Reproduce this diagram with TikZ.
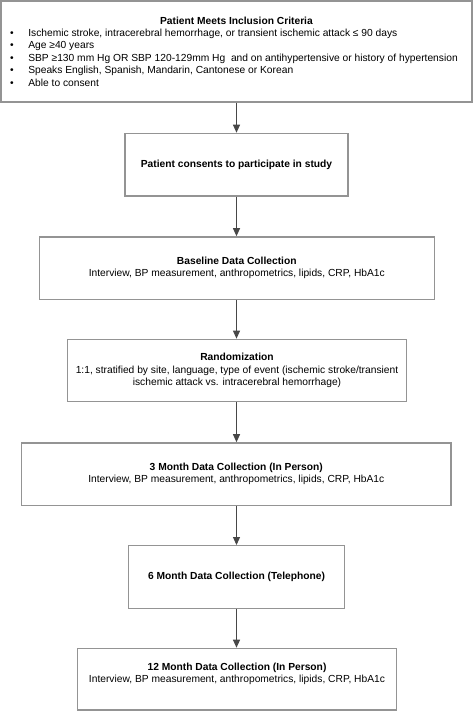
\documentclass[tikz,border=0pt]{standalone}
\usepackage{fontspec}
\setmainfont{Liberation Sans}
\usetikzlibrary{arrows.meta}
\begin{document}
\begin{tikzpicture}[x=1pt,y=-1pt,
  box/.style={draw=black!42, line width=1.3pt, fill=white, align=center, inner sep=0pt,
    font=\fontsize{10.25}{12.4}\selectfont},
  arr/.style={draw=black!72, line width=1pt, -{Triangle[length=8pt,width=7pt]}}]
\useasboundingbox (0,0) rectangle (473,711);
\newcommand{\blt}[1]{\makebox[18.3pt][l]{\textbullet}#1\par}
\node[box, minimum width=471pt, minimum height=101pt] (b1) at (236.5,51.5)
 {\begin{minipage}{453pt}\fontsize{10.25}{12.4}\selectfont
  {\centering\textbf{Patient Meets Inclusion Criteria}\par}
  \raggedright
  \blt{Ischemic stroke, intracerebral hemorrhage, or transient ischemic attack ≤ 90 days}
  \blt{Age ≥40 years}
  \blt{SBP ≥130 mm Hg OR SBP 120-129mm Hg\ \ and on antihypertensive or history of hypertension}
  \blt{Speaks English, Spanish, Mandarin, Cantonese or Korean}
  \blt{Able to consent}
 \end{minipage}};
\node[box, minimum width=223pt, minimum height=62.7pt] (b2) at (236.5,164.7)
 {\textbf{Patient consents to participate in study}};
\node[box, minimum width=395pt, minimum height=62.3pt] (b3) at (236.8,268)
 {\textbf{Baseline Data Collection}\\Interview, BP measurement, anthropometrics, lipids, CRP, HbA1c};
\node[box, minimum width=339.4pt, minimum height=62.4pt] (b4) at (237,370.5)
 {\textbf{Randomization}\\1:1, stratified by site, language, type of event (ischemic stroke/transient\\ischemic attack vs. intracerebral hemorrhage)};
\node[box, minimum width=429.3pt, minimum height=62.3pt] (b5) at (236.3,474)
 {\textbf{3 Month Data Collection (In Person)}\\Interview, BP measurement, anthropometrics, lipids, CRP, HbA1c};
\node[box, minimum width=215.6pt, minimum height=62.6pt] (b6) at (236.5,577)
 {\textbf{6 Month Data Collection (Telephone)}};
\node[box, minimum width=319.4pt, minimum height=61.7pt] (b7) at (237,679.2)
 {\textbf{12 Month Data Collection (In Person)}\\Interview, BP measurement, anthropometrics, lipids, CRP, HbA1c\\\mbox{}};
\foreach \a/\b in {b1/b2,b2/b3,b3/b4,b4/b5,b5/b6,b6/b7}
  \draw[arr] (236.5,0 |- \a.south) -- (236.5,0 |- \b.north);
\end{tikzpicture}
\end{document}
